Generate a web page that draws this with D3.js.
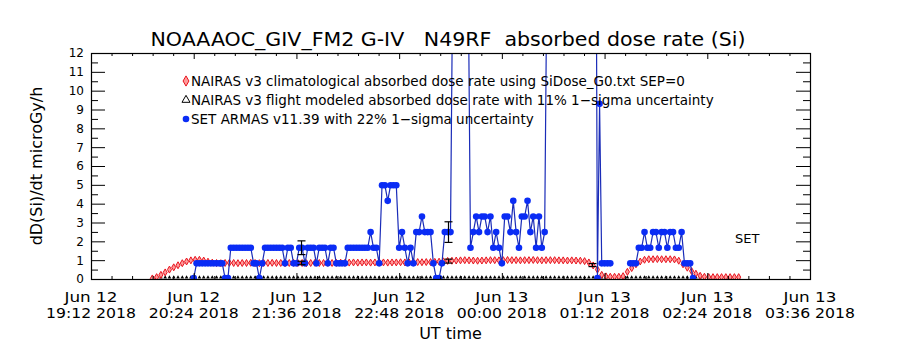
<!DOCTYPE html>
<html><head><meta charset="utf-8">
<script src="https://cdn.jsdelivr.net/npm/d3@7"></script>
<style>
body{margin:0;background:#fff}
svg{display:block}
text{font-family:"DejaVu Sans",sans-serif;fill:#000;white-space:pre}
</style>
</head><body>
<svg id="c" width="900" height="350"></svg>
<script>
// ---------- data (times are minutes after 2018-06-12 19:12 UT) ----------
const titleText = "NOAAAOC_GIV_FM2 G-IV   N49RF  absorbed dose rate (Si)";
const yTitle = "dD(Si)/dt microGy/h";
const xTitle = "UT time";
const xTickMinutes = [0, 72, 144, 216, 288, 360, 432, 504];
const xTickDay = ["Jun 12","Jun 12","Jun 12","Jun 12","Jun 13","Jun 13","Jun 13","Jun 13"];
const xTickTime = ["19:12 2018","20:24 2018","21:36 2018","22:48 2018","00:00 2018","01:12 2018","02:24 2018","03:36 2018"];
const yTickValues = [0,1,2,3,4,5,6,7,8,9,10,11,12];
const legendLabels = [
  "NAIRAS v3 climatological absorbed dose rate using SiDose_G0.txt SEP=0",
  "NAIRAS v3 flight modeled absorbed dose rate with 11% 1\u2212sigma uncertainty",
  "SET ARMAS v11.39 with 22% 1\u2212sigma uncertainty"
];
const sideLabel = "SET";

// NAIRAS climatological (red diamonds), sampled every 3 min from minute 43
const redT = d3.range(43, 455, 3);
const redV = [
  0.03,0.1,0.22,0.35,0.5,0.62,0.73,0.84,0.93,0.99,1.02,1.02,0.98,0.92,0.87,
  0.85,0.84,0.85,0.86,0.85,0.84,0.85,0.85,0.86,0.85,0.84,0.85,0.85,0.86,0.85,0.85,
  0.84,0.85,0.86,0.85,0.85,0.84,0.85,0.86,0.85,0.85,0.86,0.85,0.86,0.87,0.86,
  0.87,0.88,0.87,0.88,0.88,0.87,0.88,0.89,0.88,0.87,0.88,0.88,0.89,0.88,0.88,
  0.89,0.9,0.89,0.9,0.9,0.91,
  0.92,0.94,0.96,0.97,
  0.98,0.99,1.0,0.99,0.98,0.97,0.98,0.99,1.0,1.0,0.99,1.0,1.01,1.0,1.0,0.99,
  1.0,1.0,1.01,1.0,0.99,1.0,1.0,1.0,0.99,0.99,0.98,0.99,
  0.98,0.97,0.95,0.88,0.72,0.5,0.22,0.14,0.12,0.12,0.12,0.15,0.38,0.58,0.78,0.93,
  1.02,1.05,1.05,1.06,1.05,1.05,1.05,1.04,0.97,0.78,0.6,0.42,0.28,0.17,0.12,
  0.1,0.1,0.1,0.1,0.1,0.1,0.1,0.1
];
// NAIRAS flight modeled (black triangles)
const blackT = d3.range(43, 455, 3);
const blackV = [
  0,0,0,0,0,0,0,0,0,0,0,0,0,0,0,0,0,0,0,0,0,0,0,0,0,0,0,0,0,0,
  0,0,0,0,0,0,0,0,0,0,0,0,0,0,0,0,0,0,0,0,0,0,0,0,0,0,0,0,0,0,
  0,0,0,0,0,0,0,0,0,0,0,0,0,0,0,0,0,0,0,0,0,0,0,0,0,0,0,0,0,0,
  0,0,0,0,0,0,0,0,0,0,0,0,0,0,0,0,0,0,0,0,0,0,0,0,0,0,0,0,0,0,
  0,0,0,0,0,0,0,0,0,0,0,0,0,0,0,0,0,0
];
// SET ARMAS (blue line + filled circles); null = no data
const blueT = [72,74,76,78,80,82,84,86,88,90,92,94,96,98,100,102,104,106,108,110,112,
  114,116,118,120,122,124,126,128,130,132,134,136,138,140,142,144,146,148,150,152,154,156,
  158,160,162,164,166,168,170,172,174,176,178,180,182,184,186,188,190,192,194,196,198,200,202,
  204,206,208,210,212,214,216,218,220,222,224,226,228,230,232,234,236,238,240,242,244,246,
  248,250,252,254,258,262,264,266,268,270,272,274,276,278,280,282,284,286,288,
  290,292,294,296,298,300,302,304,306,308,310,312,314,316,318,320,354,
  355,356.5,358,360,362,364,365,
  378,380,382,384,386,388,390,392,394,396,398,400,402,404,406,408,410,412,414,416,418,420,422];
const blueV = [0.05,0.83,0.83,0.83,0.83,0.83,0.83,0.83,0.83,0.83,0.83,0.05,0.05,1.66,1.66,1.66,1.66,1.66,1.66,1.66,1.66,
  0.83,0.83,0.05,0.83,1.66,1.66,1.66,1.66,1.66,1.66,1.66,0.83,1.66,1.66,0.83,0.83,1.66,1.66,0.83,1.66,1.66,1.66,
  0.83,1.66,1.66,1.66,0.83,1.66,1.66,0.83,0.83,0.83,0.83,1.66,1.66,1.66,1.66,1.66,1.66,1.66,1.66,2.49,1.66,1.66,0.83,
  4.98,4.98,4.15,4.98,4.98,4.98,1.66,2.49,1.66,0.83,1.66,0.83,2.49,2.49,3.32,2.49,2.49,2.49,0.83,0.05,0.05,0.83,
  2.49,2.49,2.49,20,20,20,20,1.66,2.49,3.32,2.49,3.32,3.32,2.49,3.32,1.66,2.49,1.66,0.83,
  3.32,3.32,2.49,4.15,2.49,1.66,3.32,3.32,4.15,2.49,3.32,1.66,3.32,1.66,2.49,20,20,
  0.05,9.3,0.83,0.83,0.83,0.83,null,
  0.83,0.83,0.83,1.66,1.66,2.49,1.66,1.66,2.49,2.49,1.66,2.49,2.49,1.66,2.49,2.49,1.66,1.66,2.49,0.83,0.83,0.83,0.05];
// uncertainty bars
const errT = [147, 250, 351];
const errSetV = [1.66, 2.49, null];
const errNairasV = [0.85, 0.95, 0.74];
const setPct = 0.22, nairasPct = 0.11;

// ---------- layout ----------
const svg = d3.select("#c");
const L = 91, R = 810, T = 53, B = 279;
const x = d3.scaleLinear().domain([0, 504]).range([L, R]);
const y = d3.scaleLinear().domain([0, 12]).range([B, T]);
const blueLine = "#1a2cb8", blueFill = "#0a2cf5", red = "#e8141e";

svg.append("defs").append("clipPath").attr("id","clip")
  .append("rect").attr("x", L).attr("y", T).attr("width", R - L).attr("height", B - T);

// title
svg.append("text").attr("x", 448).attr("y", 46).attr("text-anchor","middle")
  .attr("textLength", 595).attr("lengthAdjust","spacingAndGlyphs")
  .style("font-size","20px").text(titleText);

const plot = svg.append("g").attr("clip-path","url(#clip)");

// black triangles
const tri = d3.symbol().type(d3.symbolTriangle).size(6);
plot.append("g").selectAll("path").data(blackT).join("path")
  .attr("d", tri).attr("fill","#000")
  .attr("transform",(d,i)=>`translate(${x(d)},${y(blackV[i])-1.5})`);

// red diamonds
const dia = d3.symbol().type(d3.symbolDiamond).size(14);
plot.append("g").selectAll("path").data(redT).join("path")
  .attr("d", dia).attr("fill","#ff9a9a").attr("stroke", red).attr("stroke-width",1)
  .attr("transform",(d,i)=>`translate(${x(d)},${y(redV[i])})`);

// blue line + circles
const bluePts = blueT.map((t,i)=>[t, blueV[i]]);
plot.append("path").datum(bluePts)
  .attr("fill","none").attr("stroke", blueLine).attr("stroke-width",1.2)
  .attr("d", d3.line().defined(d=>d[1] != null).x(d=>x(d[0])).y(d=>y(d[1])));
plot.append("g").selectAll("circle").data(bluePts.filter(d=>d[1] != null)).join("circle")
  .attr("cx", d=>x(d[0])).attr("cy", d=>y(d[1])).attr("r", 3.3).attr("fill", blueFill);

// error bars
function errBar(t, v, pct){
  const g = plot.append("g").attr("stroke","#000").attr("stroke-width",1.2);
  const y0 = y(v*(1-pct)), y1 = y(v*(1+pct)), cx = Math.round(x(t))+0.5;
  g.append("line").attr("x1",cx).attr("x2",cx).attr("y1",y0).attr("y2",y1);
  g.append("line").attr("x1",cx-4).attr("x2",cx+4).attr("y1",y0).attr("y2",y0);
  g.append("line").attr("x1",cx-4).attr("x2",cx+4).attr("y1",y1).attr("y2",y1);
}
errT.forEach((t,i)=>{
  if (errSetV[i] != null) errBar(t, errSetV[i], setPct);
  errBar(t, errNairasV[i], nairasPct);
});

// axes
const minorY = d3.range(0.5, 12, 1);
function yAxis(g, side){
  const ax = (side === "left" ? d3.axisLeft(y) : d3.axisRight(y));
  g.call(ax.tickValues(yTickValues).tickSizeInner(-14).tickSizeOuter(0).tickPadding(7)
          .tickFormat(side === "left" ? d3.format("d") : ""));
  g.selectAll(".tick text").style("font-size","12px");
  g.call(gg => gg.select(".domain").remove());
  g.append("g").call((side === "left" ? d3.axisLeft(y) : d3.axisRight(y))
    .tickValues(minorY).tickSizeInner(-7).tickSizeOuter(0).tickFormat(""))
    .call(gg => gg.select(".domain").remove());
}
svg.append("g").attr("transform",`translate(${L},0)`).call(yAxis, "left");
svg.append("g").attr("transform",`translate(${R},0)`).call(yAxis, "right");

function xAxis(g, side){
  const ax = side === "bottom" ? d3.axisBottom(x) : d3.axisTop(x);
  g.call(ax.tickValues(xTickMinutes.slice(1,-1)).tickSizeInner(-6).tickSizeOuter(0).tickFormat(""));
  g.call(gg => gg.select(".domain").remove());
  g.append("g").call((side === "bottom" ? d3.axisBottom(x) : d3.axisTop(x))
    .tickValues(d3.range(14.4, 504, 14.4).filter(m => Math.abs(m/72 - Math.round(m/72)) > 0.01))
    .tickSizeInner(-3).tickSizeOuter(0).tickFormat(""))
    .call(gg => gg.select(".domain").remove());
}
svg.append("g").attr("transform",`translate(0,${B})`).call(xAxis, "bottom");
svg.append("g").attr("transform",`translate(0,${T})`).call(xAxis, "top");

// frame
svg.append("rect").attr("x", L+0.5).attr("y", T+0.5).attr("width", R-L).attr("height", B-T)
  .attr("fill","none").attr("stroke","#000").attr("stroke-width",1.2);

// x tick labels
const xl = svg.append("g").style("font-size","14px").attr("text-anchor","middle");
xTickMinutes.forEach((m,i)=>{
  xl.append("text").attr("x", x(m)).attr("y", 302).attr("textLength", 53)
    .attr("lengthAdjust","spacingAndGlyphs").text(xTickDay[i]);
  xl.append("text").attr("x", x(m)).attr("y", 318).attr("textLength", 90)
    .attr("lengthAdjust","spacingAndGlyphs").text(xTickTime[i]);
});
svg.append("text").attr("x", (L+R)/2).attr("y", 339).attr("text-anchor","middle")
  .style("font-size","16px").text(xTitle);
svg.append("text").attr("transform",`translate(42,${(T+B)/2}) rotate(-90)`)
  .attr("text-anchor","middle").style("font-size","16px").text(yTitle);

// legend
const lg = svg.append("g");
const legY = [81, 100, 119];
lg.append("path").attr("d", d3.symbol().type(d3.symbolDiamond).size(30))
  .attr("transform",`translate(186,${legY[0]})`).attr("fill","#ff9a9a").attr("stroke",red);
lg.append("path").attr("d", d3.symbol().type(d3.symbolTriangle).size(28))
  .attr("transform",`translate(186,${legY[1]})`).attr("fill","#fff").attr("stroke","#000");
lg.append("circle").attr("cx",186).attr("cy",legY[2]).attr("r",3.3).attr("fill",blueFill);
legendLabels.forEach((t,i)=>{
  lg.append("text").attr("x",191).attr("y",legY[i]+4.5).style("font-size","13.5px").text(t);
});
svg.append("text").attr("x",735).attr("y",243).style("font-size","13px").text(sideLabel);
</script>
</body></html>
